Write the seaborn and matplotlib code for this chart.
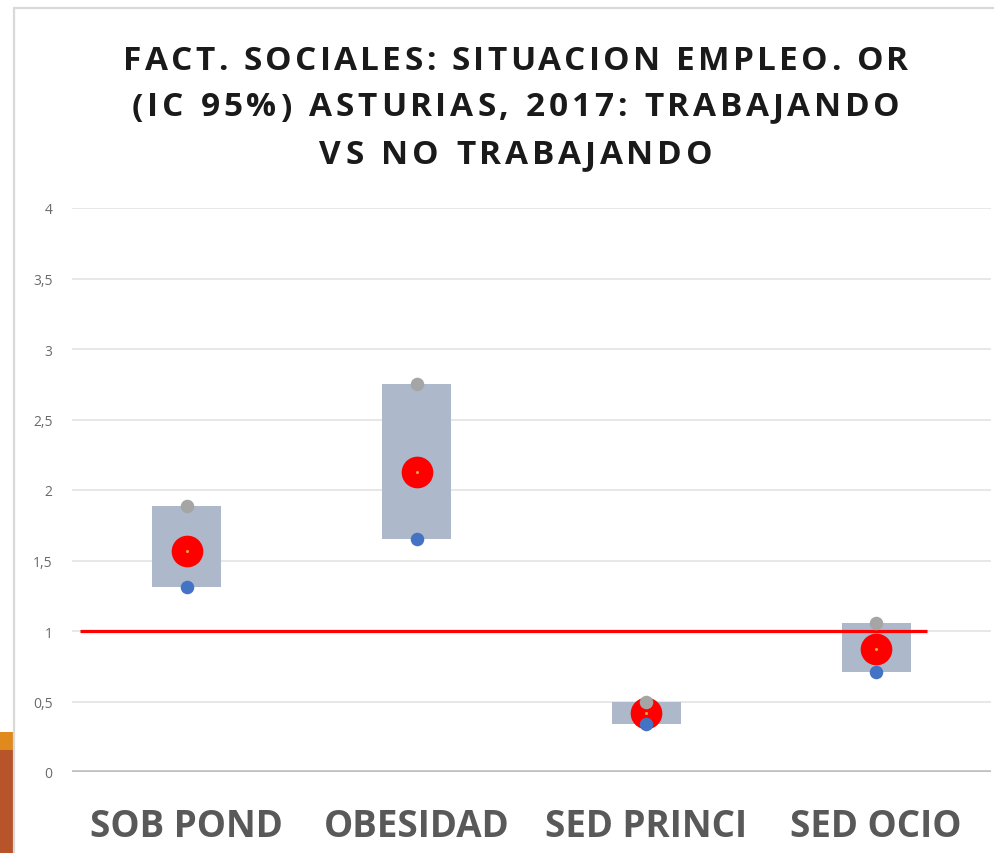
import matplotlib
matplotlib.use("Agg")
import matplotlib.pyplot as plt
import matplotlib.patches as patches
from matplotlib.lines import Line2D
import numpy as np
import pandas as pd
import seaborn as sns

# data
categories = ["SOB POND", "OBESIDAD", "SED PRINCI", "SED OCIO"]
or_values = [1.57, 2.13, 0.42, 0.87]
ci_upper = [1.89, 2.75, 0.50, 1.06]
ci_lower = [1.31, 1.65, 0.34, 0.71]
ref_value = 1.0
y_ticks = [0, 0.5, 1, 1.5, 2, 2.5, 3, 3.5, 4]
title_lines = [
    "FACT. SOCIALES: SITUACION EMPLEO. OR",
    "(IC 95%) ASTURIAS, 2017: TRABAJANDO",
    "VS NO TRABAJANDO",
]

sns.set_theme(style="white")
plt.rcParams["font.family"] = ["Open Sans", "DejaVu Sans"]

W, H = 995, 854
fig = plt.figure(figsize=(W / 100, H / 100), dpi=100)
fig.patch.set_facecolor("white")

# slide decorations
fig.add_artist(Line2D([14 / W, 1], [1 - 9 / H, 1 - 9 / H], color="#d9d9d9", lw=1.6))
fig.add_artist(Line2D([14 / W, 14 / W], [0, 1 - 9 / H], color="#d9d9d9", lw=1.6))
fig.add_artist(patches.Rectangle((0, 1 - 751 / H), 13 / W, 18 / H, transform=fig.transFigure,
                                 color="#E08A1E", lw=0))
fig.add_artist(patches.Rectangle((0, 0), 13 / W, 1 - 751 / H, transform=fig.transFigure,
                                 color="#B8542A", lw=0))

ax = fig.add_axes([72 / W, 1 - 773 / H, (991 - 72) / W, (773 - 209) / H])
ax.set_facecolor("none")
ax.set_xlim(-0.5, 3.5)
ax.set_ylim(0, 4)

df = pd.DataFrame({
    "pos": np.arange(len(categories)),
    "cat": categories,
    "or": or_values,
    "hi": ci_upper,
    "lo": ci_lower,
})

# gridlines
for t in y_ticks[1:]:
    ax.axhline(t, color="#e0e0e0", lw=1.1, zorder=0)
ax.axhline(0, color="#bfbfbf", lw=2.6, zorder=1)

# boxes from lower to upper bound
ax.bar(df["pos"], df["hi"] - df["lo"], bottom=df["lo"], width=0.30,
       color="#ADB9CA", lw=0, zorder=2)

# reference line
ax.plot([-0.465, 3.22], [ref_value, ref_value], color="#FF0000", lw=2.3, zorder=3,
        solid_capstyle="butt")

sns.scatterplot(data=df, x="pos", y="or", s=520, color="#FF0000", linewidth=0, ax=ax, zorder=4)
sns.scatterplot(data=df, x="pos", y="or", s=5, color="#F0A030", linewidth=0, ax=ax, zorder=5)
sns.scatterplot(data=df, x="pos", y="hi", s=95, color="#A5A5A5", linewidth=0, ax=ax, zorder=6)
sns.scatterplot(data=df, x="pos", y="lo", s=95, color="#4472C4", linewidth=0, ax=ax, zorder=7)

ax.set_xticks(df["pos"])
ax.set_xticklabels(categories, fontsize=26.5, color="#595959", fontweight="bold")
ax.set_yticks(y_ticks)
ax.set_yticklabels([f"{t:g}".replace(".", ",") for t in y_ticks], fontsize=10, color="#6a6a6a")
ax.tick_params(axis="x", length=0, pad=25)
ax.tick_params(axis="y", length=0, pad=14)
ax.set_xlabel("")
ax.set_ylabel("")
for s in ax.spines.values():
    s.set_visible(False)

# title with letter spacing, drawn char by char
fig.canvas.draw()
renderer = fig.canvas.get_renderer()
title_kw = dict(fontsize=24, fontweight="bold", color="#1a1a1a", va="center", ha="left")
line_y = [61, 108, 156]
target_w = [785, 768, 393]
for line, yy, tw in zip(title_lines, line_y, target_w):
    widths = []
    for ch in line:
        if ch == " ":
            t = fig.text(0, 0, "n", **title_kw)
            w = t.get_window_extent(renderer).width * 0.45
        else:
            t = fig.text(0, 0, ch, **title_kw)
            w = t.get_window_extent(renderer).width
        t.remove()
        widths.append(w)
    gap = (tw - sum(widths)) / (len(line) - 1)
    x = 516 - tw / 2
    for ch, w in zip(line, widths):
        if ch != " ":
            fig.text(x / W, 1 - yy / H, ch, **title_kw)
        x += w + gap

fig.savefig("out.png", dpi=100)
